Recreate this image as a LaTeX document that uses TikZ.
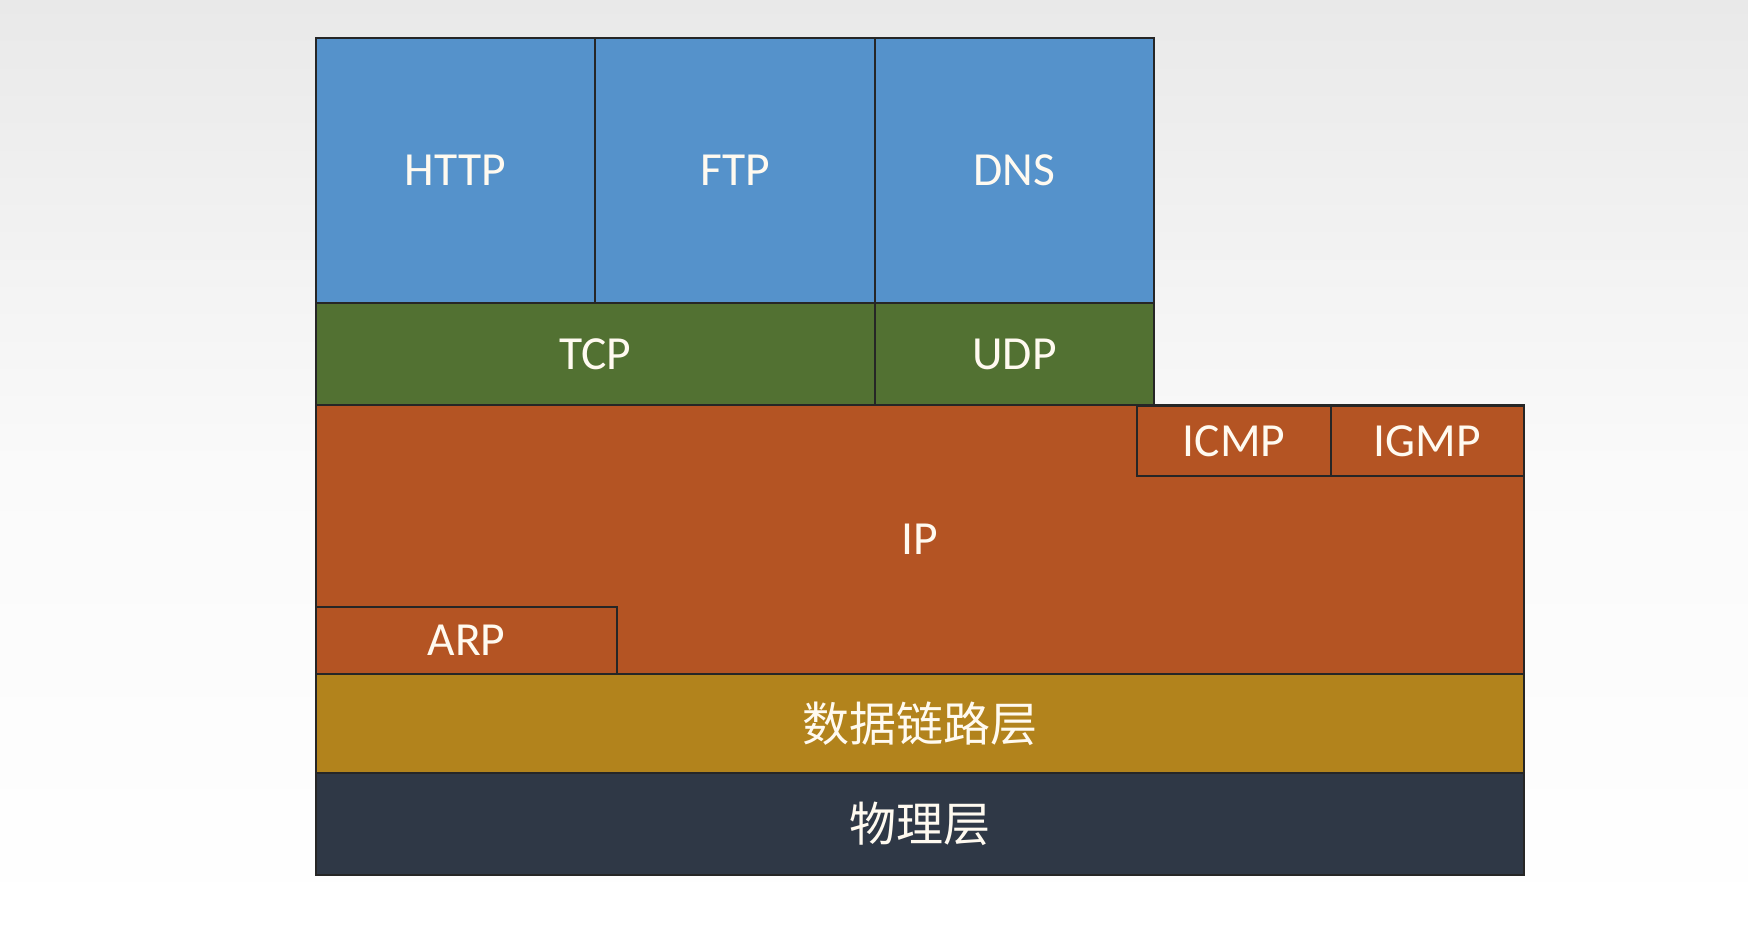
\documentclass[tikz,border=0pt]{standalone}
\usepackage{fontspec}
\setmainfont{Carlito}
\newfontfamily\cjk{Noto Sans CJK SC}
\definecolor{appblue}{RGB}{85,146,203}
\definecolor{trgreen}{RGB}{82,113,50}
\definecolor{iporange}{RGB}{180,84,35}
\definecolor{dlgold}{RGB}{178,131,28}
\definecolor{phdark}{RGB}{47,56,70}
\definecolor{txt}{RGB}{255,250,240}
\newcommand{\lowlbl}[1]{\raisebox{-3pt}{#1}}
\begin{document}
\begin{tikzpicture}[x=1pt,y=-1pt,
  box/.style={draw=black!85, line width=1.5pt, inner sep=0pt, text=txt,
    font=\fontsize{47.5}{50}\selectfont},
  cbox/.style={box, font=\cjk\fontsize{47}{50}\selectfont}]
\path[use as bounding box, top color={rgb,255:red,233;green,233;blue,233}, bottom color=white, middle color={rgb,255:red,250;green,250;blue,250}] (0,0) rectangle (1748,928);
% application layer
\node[box, fill=appblue, minimum width=279pt, minimum height=265pt] (http) at (455.5,170.5) {\lowlbl{HTTP}};
\node[box, fill=appblue, minimum width=280pt, minimum height=265pt] (ftp) at (735,170.5) {\lowlbl{FTP}};
\node[box, fill=appblue, minimum width=279pt, minimum height=265pt] (dns) at (1014.5,170.5) {\lowlbl{DNS}};
% transport layer
\node[box, fill=trgreen, minimum width=559pt, minimum height=102pt] (tcp) at (595.5,354) {\lowlbl{TCP}};
\node[box, fill=trgreen, minimum width=279pt, minimum height=102pt] (udp) at (1014.5,354) {\lowlbl{UDP}};
% network layer
\node[box, fill=iporange, minimum width=1208pt, minimum height=269pt] (ip) at (920,539.5) {IP};
\node[box, fill=iporange, minimum width=194pt, minimum height=70pt] (icmp) at (1234,441) {ICMP};
\node[box, fill=iporange, minimum width=193pt, minimum height=70pt] (igmp) at (1427.5,441) {IGMP};
\node[box, fill=iporange, minimum width=301pt, minimum height=67pt] (arp) at (466.5,640.5) {ARP};
% data link and physical
\node[cbox, fill=dlgold, minimum width=1208pt, minimum height=99pt] (dl) at (920,723.5) {数据链路层};
\node[cbox, fill=phdark, minimum width=1208pt, minimum height=102pt] (ph) at (920,824) {物理层};
\end{tikzpicture}
\end{document}
